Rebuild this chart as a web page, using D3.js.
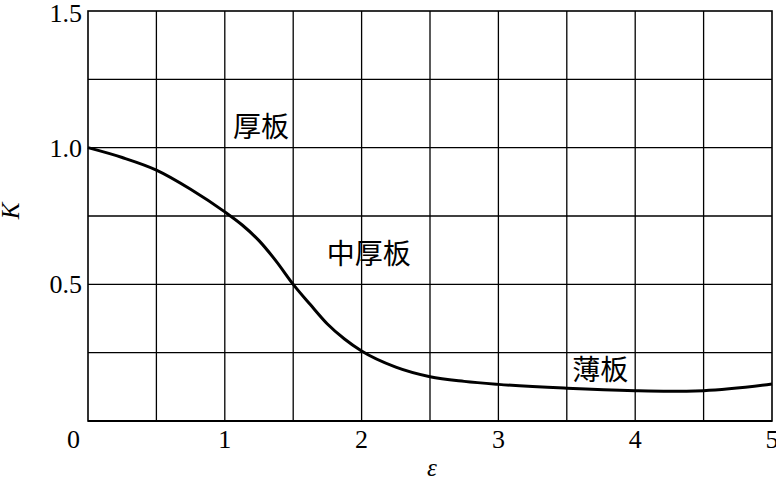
<!DOCTYPE html>
<html>
<head>
<meta charset="utf-8">
<script src="https://cdn.jsdelivr.net/npm/d3@7"></script>
<style>
  body { margin: 0; background: #fff; }
  svg { display: block; }
</style>
</head>
<body>
<div id="chart"></div>
<script>
// curve
const eps = [0, 0.25, 0.5, 0.75, 1.0, 1.125, 1.25, 1.375, 1.5, 1.625, 1.75, 1.875, 2.0, 2.25, 2.5, 2.75, 3.0, 3.5, 4.0, 4.25, 4.5, 5.0]
const kVals = [1.0, 0.964, 0.918, 0.848, 0.765, 0.718, 0.66, 0.585, 0.5, 0.426, 0.355, 0.3, 0.256, 0.197, 0.162, 0.145, 0.134, 0.12, 0.111, 0.109, 0.111, 0.135]

const xTicks = [0, 1, 2, 3, 4, 5]
const yTicks = [0.5, 1.0, 1.5]
const xGrid = [0.5, 1, 1.5, 2, 2.5, 3, 3.5, 4, 4.5]
const yGrid = [0.25, 0.5, 0.75, 1.0, 1.25]

const regions = [
    {name: "厚板", e: 1.06, k: 1.039},
    {name: "中厚板", e: 1.745, k: 0.574},
    {name: "薄板", e: 3.54, k: 0.15}
]

const W = 776, H = 480
const margin = {left: 88, right: 4, top: 11, bottom: 59}
const width = W - margin.left - margin.right
const height = H - margin.top - margin.bottom

const svg = d3.select("#chart").append("svg")
    .attr("width", W)
    .attr("height", H)

const g = svg.append("g")
    .attr("transform", `translate(${margin.left},${margin.top})`)

const x = d3.scaleLinear().domain([0, 5]).range([0, width])
const y = d3.scaleLinear().domain([0, 1.5]).range([height, 0])

const serif = "'Liberation Serif', 'DejaVu Serif', serif"
const cjk = "'Noto Sans CJK SC', sans-serif"

// grid
g.selectAll(".vgrid").data(xGrid).enter().append("line")
    .attr("x1", d => x(d)).attr("x2", d => x(d))
    .attr("y1", 0).attr("y2", height)
    .attr("stroke", "#000").attr("stroke-width", 1.3)

g.selectAll(".hgrid").data(yGrid).enter().append("line")
    .attr("x1", 0).attr("x2", width)
    .attr("y1", d => y(d)).attr("y2", d => y(d))
    .attr("stroke", "#000").attr("stroke-width", 1.3)

// frame
g.append("rect")
    .attr("x", 0).attr("y", 0)
    .attr("width", width).attr("height", height)
    .attr("fill", "none").attr("stroke", "#000").attr("stroke-width", 1.6)

g.append("line")
    .attr("x1", 0).attr("x2", width)
    .attr("y1", height).attr("y2", height)
    .attr("stroke", "#000").attr("stroke-width", 2.2)

// curve
const line = d3.line()
    .x((d, i) => x(eps[i]))
    .y(d => y(d))
    .curve(d3.curveMonotoneX)

g.append("path")
    .datum(kVals)
    .attr("d", line)
    .attr("fill", "none")
    .attr("stroke", "#000")
    .attr("stroke-width", 3)

// tick labels
g.selectAll(".xlab").data(xTicks).enter().append("text")
    .attr("x", d => d === 0 ? x(d) - 8 : x(d))
    .attr("y", height + 27)
    .attr("text-anchor", d => d === 0 ? "end" : "middle")
    .attr("font-family", serif)
    .attr("font-size", 26)
    .text(d => d)

g.selectAll(".ylab").data(yTicks).enter().append("text")
    .attr("x", -6)
    .attr("y", d => d === 1.5 ? y(d) + 2 : y(d))
    .attr("dy", "0.35em")
    .attr("text-anchor", "end")
    .attr("font-family", serif)
    .attr("font-size", 26)
    .text(d => d.toFixed(1))

// axis titles
svg.append("text")
    .attr("transform", "translate(19,211) rotate(-90)")
    .attr("text-anchor", "middle")
    .attr("font-family", serif)
    .attr("font-style", "italic")
    .attr("font-size", 25)
    .text("K")

svg.append("text")
    .attr("x", 432)
    .attr("y", 476)
    .attr("text-anchor", "middle")
    .attr("font-family", serif)
    .attr("font-style", "italic")
    .attr("font-size", 25)
    .text("ε")

// region labels
g.selectAll(".region").data(regions).enter().append("text")
    .attr("x", d => x(d.e))
    .attr("y", d => y(d.k))
    .attr("font-family", cjk)
    .attr("font-size", 28)
    .text(d => d.name)
</script>
</body>
</html>
